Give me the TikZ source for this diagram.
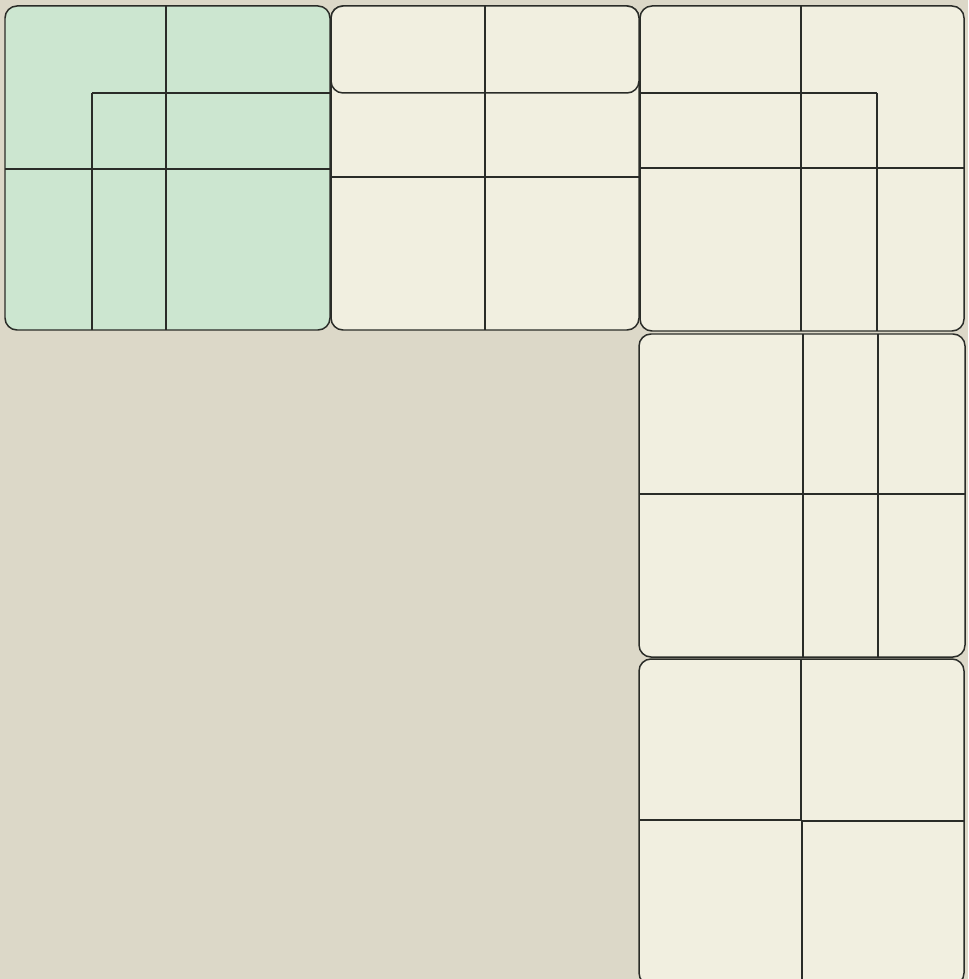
\documentclass[tikz,border=0pt]{standalone}
\begin{document}
\begin{tikzpicture}[x=0.02cm, y=-0.02cm]

  % --- Farben ---
  \definecolor{bgcol}{HTML}{DCD8C8}   % Hintergrund
  \definecolor{greencol}{HTML}{CCE6D0} % gruenes Feld
  \definecolor{creamcol}{HTML}{F1EFE0} % helle Felder
  \definecolor{linecol}{HTML}{2A2C28}  % Linien

  % --- Hilfsmakros: \panelbox{x1}{y1}{x2}{y2}{Farbe}, \cut{a}{b} ---
  \newcommand{\panelbox}[5]{%
    \filldraw[fill=#5, draw=linecol, line width=0.85pt, rounded corners=0.24cm] (#1,#2) rectangle (#3,#4);
  }
  \newcommand{\cut}[2]{%
    \draw[linecol, line width=0.7pt] (#1) -- (#2);
  }

  % --- Rahmen ---
  \useasboundingbox (0,0) rectangle (968,979);
  \clip (0,0) rectangle (968,979);
  \fill[bgcol] (0,0) rectangle (968,979);

  % Feld 1: gruen, oben links
  \panelbox{5}{6}{330}{330}{greencol}
  \cut{166,6}{166,330}
  \cut{92,93}{330,93}
  \cut{92,93}{92,330}
  \cut{5,169}{330,169}

  % Feld 2: oben Mitte (obere Zeile eigener Kasten, dickere Linien)
  \begin{scope}[every path/.append style={line width=1pt}]
    \panelbox{331}{6}{639}{330}{creamcol}
    \panelbox{331}{6}{639}{93}{creamcol}
    \draw[linecol] (485,6) -- (485,330);
    \draw[linecol] (331,177) -- (639,177);
  \end{scope}

  % Feld 3: oben rechts
  \panelbox{640}{6}{964}{331}{creamcol}
  \cut{801,6}{801,331}
  \cut{640,93}{877,93}
  \cut{877,93}{877,331}
  \cut{640,168}{964,168}

  % Feld 4: Mitte rechts
  \panelbox{639}{334}{965}{657}{creamcol}
  \cut{803,334}{803,657}
  \cut{878,334}{878,657}
  \cut{639,494}{965,494}

  % Feld 5: unten rechts
  \panelbox{639}{659}{964}{985}{creamcol}
  \cut{801,659}{801,821}
  \cut{639,820}{801,820}
  \cut{802,821}{802,985}
  \cut{802,821}{964,821}

\end{tikzpicture}
\end{document}
